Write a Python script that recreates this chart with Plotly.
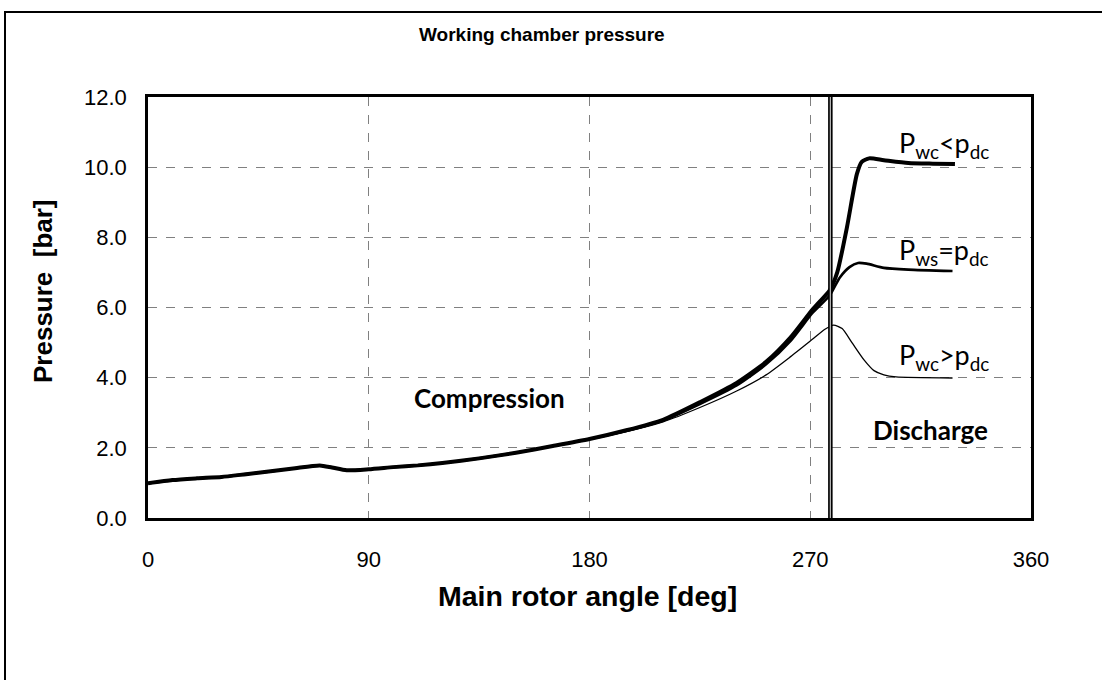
import plotly.graph_objects as go

# ---- data ----
angle_low = [0, 10, 20, 30, 40, 50, 60, 70, 75, 81, 90, 100, 110, 120, 135, 150, 165, 180, 195,
             210, 225, 240, 252, 262, 271, 278, 281, 285, 289, 291, 294, 300, 310, 320, 329]
p_low = [0.99, 1.08, 1.13, 1.17, 1.25, 1.33, 1.42, 1.50, 1.44, 1.36, 1.39, 1.45, 1.50, 1.57, 1.70, 1.86, 2.05, 2.25, 2.50,
         2.80, 3.30, 3.85, 4.45, 5.15, 5.95, 6.50, 7.00, 8.30, 9.80, 10.15, 10.25, 10.20, 10.12, 10.10, 10.09]

angle_eq = [0, 10, 20, 30, 40, 50, 60, 70, 75, 81, 90, 100, 110, 120, 135, 150, 165, 180, 195,
            210, 225, 240, 252, 262, 271, 278, 282, 286, 289.5, 293, 300, 310, 328]
p_eq = [0.99, 1.08, 1.13, 1.17, 1.25, 1.33, 1.42, 1.50, 1.44, 1.36, 1.39, 1.45, 1.50, 1.57, 1.70, 1.86, 2.05, 2.25, 2.49,
        2.78, 3.25, 3.78, 4.38, 5.05, 5.85, 6.35, 6.85, 7.15, 7.27, 7.25, 7.13, 7.08, 7.04]

angle_high = [0, 10, 20, 30, 40, 50, 60, 70, 75, 81, 90, 100, 110, 120, 135, 150, 165, 180, 195,
              210, 225, 240, 252, 262, 271, 276, 279.5, 283, 287, 292, 296, 300, 305, 328]
p_high = [0.99, 1.08, 1.13, 1.17, 1.25, 1.33, 1.42, 1.50, 1.44, 1.36, 1.39, 1.45, 1.50, 1.57, 1.70, 1.86, 2.05, 2.24, 2.46,
          2.74, 3.15, 3.62, 4.08, 4.60, 5.10, 5.38, 5.50, 5.40, 5.00, 4.50, 4.20, 4.08, 4.02, 3.99]

x_ticks = [0, 90, 180, 270, 360]
y_ticks = [0, 2, 4, 6, 8, 10, 12]
discharge_start = 278.2

ARIAL = "Liberation Sans, Arial, sans-serif"
CALIBRI = "Lato, Open Sans, sans-serif"

fig = go.Figure()
fig.add_trace(go.Scatter(x=angle_high, y=p_high, mode="lines", line=dict(color="black", width=1.3, shape="spline", smoothing=0.6), showlegend=False))
fig.add_trace(go.Scatter(x=angle_eq, y=p_eq, mode="lines", line=dict(color="black", width=2.6, shape="spline", smoothing=0.6), showlegend=False))
fig.add_trace(go.Scatter(x=angle_low, y=p_low, mode="lines", line=dict(color="black", width=4, shape="spline", smoothing=0.6), showlegend=False))

# discharge boundary (double line)
fig.add_shape(type="line", x0=discharge_start, x1=discharge_start, y0=0, y1=12, xref="x", yref="y",
              line=dict(color="black", width=4.5), layer="above")
fig.add_shape(type="line", x0=discharge_start, x1=discharge_start, y0=0, y1=12, xref="x", yref="y",
              line=dict(color="#bbbbbb", width=1.2), layer="above")

# outer frame
fig.add_shape(type="rect", xref="paper", yref="paper",
              x0=(5 - 148) / 883, x1=(1110 - 148) / 883, y0=(518 - 690) / 421, y1=(518 - 12) / 421,
              line=dict(color="black", width=2), fillcolor="rgba(0,0,0,0)", layer="below")

ann = []
ann.append(dict(text="<b>Working chamber pressure</b>", x=(542 - 148) / 883, y=(518 - 35) / 421, xref="paper", yref="paper",
                showarrow=False, font=dict(family=ARIAL, size=19, color="black"), xanchor="center", yanchor="middle"))
ann.append(dict(text="<b>Main rotor angle [deg]</b>", x=(587 - 148) / 883, y=(518 - 596) / 421, xref="paper", yref="paper",
                showarrow=False, font=dict(family=ARIAL, size=28.5, color="black"), xanchor="center", yanchor="middle"))
ann.append(dict(text="<b>Pressure&nbsp;&nbsp;[bar]</b>", x=(43 - 148) / 883, y=(518 - 291) / 421, xref="paper", yref="paper",
                showarrow=False, textangle=-90, font=dict(family=ARIAL, size=26, color="black"), xanchor="center", yanchor="middle"))
ann.append(dict(text="<b>Compression</b>", x=139.4, y=3.42, xref="x", yref="y", showarrow=False,
                font=dict(family=CALIBRI, size=26, color="black")))
ann.append(dict(text="<b>Discharge</b>", x=319.2, y=2.51, xref="x", yref="y", showarrow=False,
                font=dict(family=CALIBRI, size=26, color="black")))
ann.append(dict(text="P<sub>wc</sub>&lt;p<sub>dc</sub>", x=305.5, y=10.65, xref="x", yref="y", showarrow=False,
                xanchor="left", yanchor="middle", font=dict(family=CALIBRI, size=27, color="black")))
ann.append(dict(text="P<sub>ws</sub>=p<sub>dc</sub>", x=305.5, y=7.6, xref="x", yref="y", showarrow=False,
                xanchor="left", yanchor="middle", font=dict(family=CALIBRI, size=27, color="black")))
ann.append(dict(text="P<sub>wc</sub>&gt;p<sub>dc</sub>", x=305.5, y=4.6, xref="x", yref="y", showarrow=False,
                xanchor="left", yanchor="middle", font=dict(family=CALIBRI, size=27, color="black")))

fig.update_layout(
    width=1102, height=680,
    margin=dict(l=148, r=71, t=97, b=162, pad=0),
    paper_bgcolor="white", plot_bgcolor="white",
    annotations=ann,
    xaxis=dict(range=[0, 360], tickvals=x_ticks, ticktext=[str(v) for v in x_ticks],
               showgrid=True, gridcolor="#808080", griddash="dash", gridwidth=1,
               showline=True, linecolor="black", linewidth=2.5, mirror=True,
               ticks="outside", ticklen=20, tickcolor="rgba(0,0,0,0)",
               tickfont=dict(family=ARIAL, size=22, color="black"), zeroline=False),
    yaxis=dict(range=[0, 12], tickvals=y_ticks, ticktext=[f"{v:.1f}" for v in y_ticks],
               showgrid=True, gridcolor="#808080", griddash="dash", gridwidth=1,
               showline=True, linecolor="black", linewidth=2.5, mirror=True,
               ticks="outside", ticklen=14, tickcolor="rgba(0,0,0,0)",
               tickfont=dict(family=ARIAL, size=22, color="black"), zeroline=False),
)

fig.write_html("out.html", config={"displayModeBar": False},
               post_script="document.body.style.margin='0';")
